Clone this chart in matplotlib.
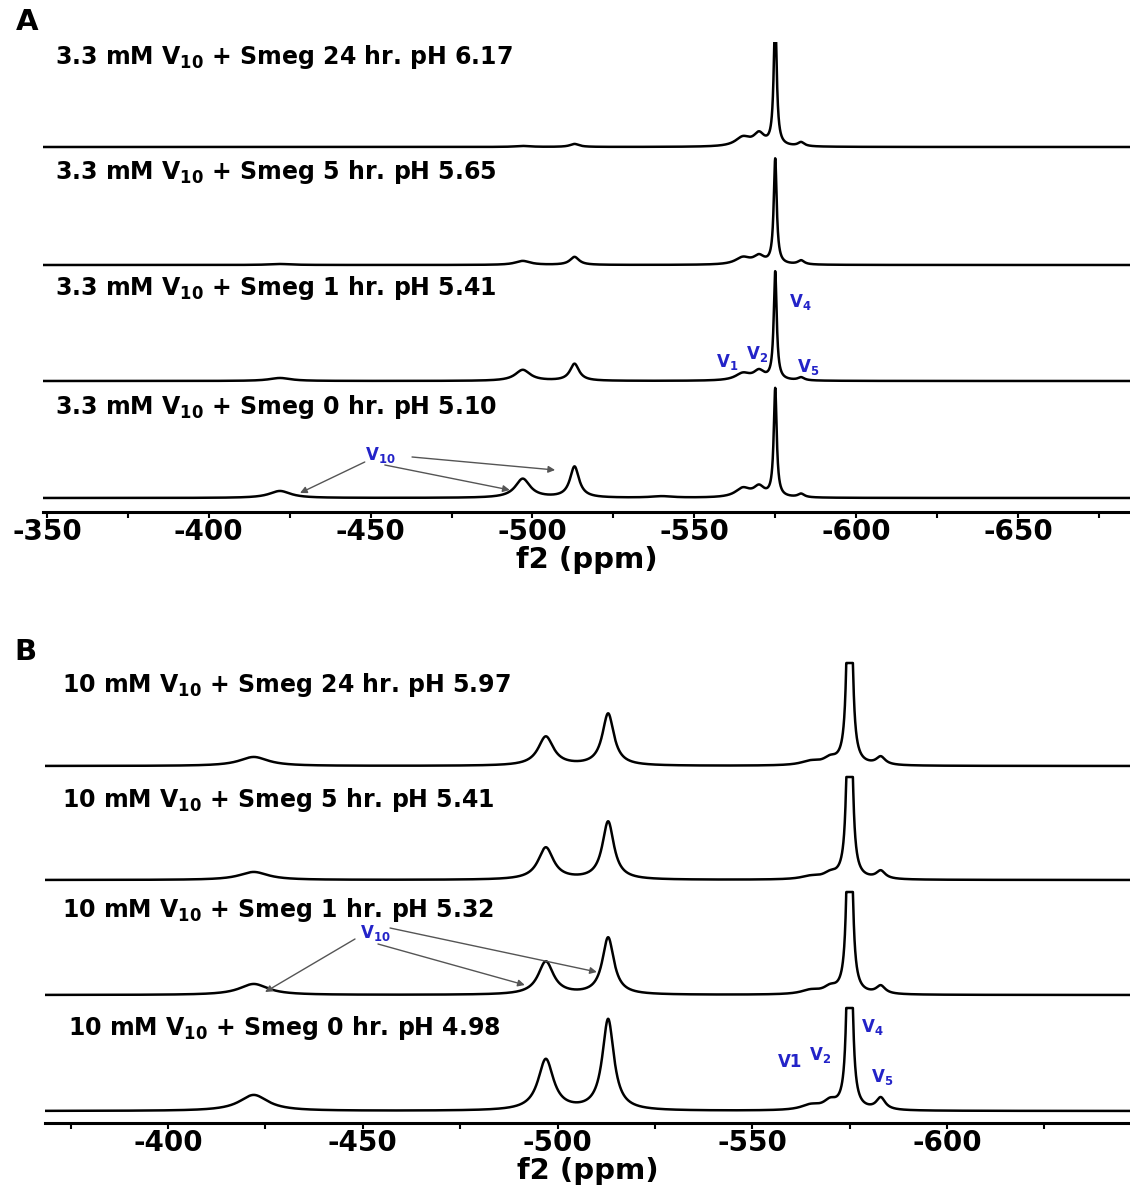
import numpy as np
import matplotlib
matplotlib.use("Agg")
import matplotlib.pyplot as plt
from matplotlib.ticker import MultipleLocator

plt.rcParams['font.family'] = ['DejaVu Sans']
plt.rcParams['font.weight'] = 'bold'
plt.rcParams['mathtext.default'] = 'bf'
plt.rcParams['axes.unicode_minus'] = False

W, H = 1130, 1189

# --- panel A: 3.3 mM V10, peak centres (ppm), half widths (ppm), heights per trace
shifts_a = [-422, -497, -513, -540, -565, -570, -575, -583]
widths_a = [4.0, 2.8, 1.7, 4.0, 2.8, 2.0, 0.55, 1.2]
a_24hr = [0, 1, 3, 0, 9, 12, 130, 4]
a_5hr = [1, 4, 8, 0, 7, 8, 105, 4]
a_1hr = [3, 11, 17, 0, 7, 9, 108, 3]
a_0hr = [7, 19, 31, 1.5, 9, 10, 108, 3.5]
labels_a = ["3.3 mM V$_{10}$ + Smeg 24 hr. pH 6.17",
            "3.3 mM V$_{10}$ + Smeg 5 hr. pH 5.65",
            "3.3 mM V$_{10}$ + Smeg 1 hr. pH 5.41",
            "3.3 mM V$_{10}$ + Smeg 0 hr. pH 5.10"]

# --- panel B: 10 mM V10
shifts_b = [-422, -497, -513, -565, -570, -575, -583]
widths_b = [4.5, 2.4, 1.8, 3.0, 2.0, 0.5, 1.4]
b_24hr = [9, 29, 52, 4, 6, 400, 8]
b_5hr = [8, 32, 58, 3, 5, 400, 8]
b_1hr = [11, 33, 57, 4, 6, 400, 8]
b_0hr = [16, 51, 91, 5, 8, 400, 12]
labels_b = ["10 mM V$_{10}$ + Smeg 24 hr. pH 5.97",
            "10 mM V$_{10}$ + Smeg 5 hr. pH 5.41",
            "10 mM V$_{10}$ + Smeg 1 hr. pH 5.32",
            "10 mM V$_{10}$ + Smeg 0 hr. pH 4.98"]

BLUE = "#2323c8"


def spectrum(ppm, shifts, widths, heights):
    y = np.zeros_like(ppm)
    for x0, w, h in zip(shifts, widths, heights):
        y += h * w**2 / ((ppm - x0)**2 + w**2)
    return y


def style_axis(ax, xlim):
    ax.set_xlim(*xlim)
    ax.set_ylim(0, 470)
    for s in ['top', 'left', 'right']:
        ax.spines[s].set_visible(False)
    ax.spines['bottom'].set_linewidth(2.2)
    ax.set_yticks([])
    ax.xaxis.set_major_locator(MultipleLocator(50))
    ax.xaxis.set_minor_locator(MultipleLocator(25))
    ax.tick_params(axis='x', which='both', direction='out', length=4, width=1.5, pad=0.5)
    ax.tick_params(axis='x', labelsize=20)
    for t in ax.get_xticklabels():
        t.set_fontweight('bold')
    ax.set_xlabel("f2 (ppm)", fontsize=21, fontweight='bold', labelpad=0)


fig = plt.figure(figsize=(W / 100, H / 100), dpi=100)

# panel A
axA = fig.add_axes([43 / W, (H - 512) / H, 1 - 43 / W, 470 / H])
ppm_a = np.linspace(-348.8, -684.6, 8000)
offsets_a = [365, 247, 131, 14]
for heights, off in zip([a_24hr, a_5hr, a_1hr, a_0hr], offsets_a):
    axA.plot(ppm_a, spectrum(ppm_a, shifts_a, widths_a, heights) + off,
             color='black', lw=1.8)
style_axis(axA, (-348.8, -684.6))

for lab, yy in zip(labels_a, [57, 172, 288, 407]):
    fig.text(55 / W, 1 - yy / H, lab, fontsize=17, fontweight='bold', va='center', ha='left')
fig.text(16 / W, 1 - 22 / H, "A", fontsize=21, fontweight='bold', va='center', ha='left')

# V10 arrows, panel A
axA.text(-452.9, 57, "V$_{10}$", color=BLUE, fontsize=12, ha='center', va='center')
for head, tail in [((-428.2, 19), (-448.2, 50)),
                   ((-493.0, 22), (-454.4, 47)),
                   ((-507.0, 42), (-462.8, 55))]:
    axA.annotate("", xy=head, xytext=tail,
                 arrowprops=dict(arrowstyle='-|>', color='#555555', lw=1.0,
                                 mutation_scale=10, shrinkA=0, shrinkB=0))
for txt, xy in [("V$_1$", (-560.1, 150)), ("V$_2$", (-569.3, 158)),
                ("V$_4$", (-582.6, 210)), ("V$_5$", (-585.1, 145))]:
    axA.text(xy[0], xy[1], txt, color=BLUE, fontsize=12, ha='center', va='center')

# panel B
axB = fig.add_axes([45 / W, (H - 1123) / H, 1 - 45 / W, 470 / H])
ppm_b = np.linspace(-368.4, -647.0, 8000)
offsets_b = [357, 243, 128, 12]
clip_b = 103
for heights, off in zip([b_24hr, b_5hr, b_1hr, b_0hr], offsets_b):
    y = np.minimum(spectrum(ppm_b, shifts_b, widths_b, heights), clip_b)
    axB.plot(ppm_b, y + off, color='black', lw=1.8)
style_axis(axB, (-368.4, -647.0))

for lab, yy, xx in zip(labels_b, [685, 800, 910, 1028], [62, 62, 62, 68]):
    fig.text(xx / W, 1 - yy / H, lab, fontsize=17, fontweight='bold', va='center', ha='left')
fig.text(14 / W, 1 - 652 / H, "B", fontsize=21, fontweight='bold', va='center', ha='left')

axB.text(-453.1, 190, "V$_{10}$", color=BLUE, fontsize=12, ha='center', va='center')
for head, tail in [((-424.9, 131), (-448.0, 184)),
                   ((-491.6, 138), (-453.9, 179)),
                   ((-510.1, 151), (-457.0, 195))]:
    axB.annotate("", xy=head, xytext=tail,
                 arrowprops=dict(arrowstyle='-|>', color='#555555', lw=1.0,
                                 mutation_scale=10, shrinkA=0, shrinkB=0))
for txt, xy in [("V1", (-559.7, 61)), ("V$_2$", (-567.4, 68)),
                ("V$_4$", (-580.7, 96)), ("V$_5$", (-583.3, 46))]:
    axB.text(xy[0], xy[1], txt, color=BLUE, fontsize=12, ha='center', va='center')

fig.savefig("out.png", dpi=100)
